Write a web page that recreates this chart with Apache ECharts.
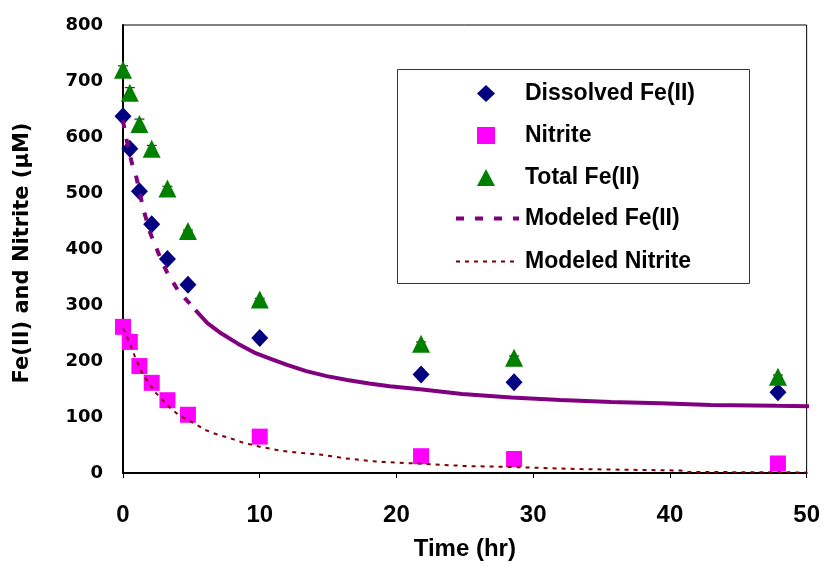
<!DOCTYPE html>
<html>
<head>
<meta charset="utf-8">
<title>Fe(II) and Nitrite</title>
<script src="https://cdn.jsdelivr.net/npm/echarts@6/dist/echarts.min.js"></script>
<style>
html, body { margin: 0; padding: 0; background: #fff; }
#chart { width: 823px; height: 570px; }
</style>
</head>
<body>
<div id="chart"></div>
<script>
// measured samples
var sampleTimes = [0, 0.5, 1.2, 2.1, 3.25, 4.75, 10, 21.8, 28.6, 47.9];
var dissolvedFe = [637, 579, 503, 444, 382, 336, 241, 176, 162, 144];
var nitrite = [261, 234, 191, 161, 130, 104, 65, 30, 25, 17];
var totalFe = [720, 679, 623, 579, 508, 432, 310, 231, 206, 172];
var totalFeErr = [7, 9, 9, 6, 4, 2, 2, 3, 3, 3];

// model curves
var modelFeTimes = [0, 0.15, 0.65, 0.94, 1.5, 2.0, 2.3, 2.8, 3.25, 3.5, 4.0, 4.5, 5.3, 6.2, 7.2, 8.4, 9.6, 10.8, 12, 13.4, 14.9, 16.4, 18, 19.5, 21.9, 24.8, 28.4, 32, 35.7, 39.3, 43, 47.8, 50.6];
var modelFe = [630, 607, 553, 532, 470, 428, 410, 380, 357, 347, 327, 313, 291, 267, 249, 231, 215, 204, 193, 182, 173, 166, 160, 155, 149, 141, 135, 130.5, 127, 124.5, 121.6, 120, 119.3];
var modelNitriteTimes = [0, 0.5, 0.87, 1.43, 2.4, 3.5, 4.0, 4.7, 5.4, 6.0, 6.75, 8.1, 8.8, 10, 11.5, 12.9, 14.4, 16.3, 18.7, 21.9, 25, 28.4, 33.3, 40.8, 41.2, 45, 50];
var modelNitrite = [258, 232, 208, 177, 143, 115, 105, 95, 86, 77, 70, 60, 54, 47, 40, 36, 33, 26, 20, 16.5, 12.5, 10.7, 7, 4.5, 2, 1.5, 1];
// the modeled Fe(II) curve shows dashes only on its steep start
var dashedUntil = 5.3;

var xTicks = [0, 10, 20, 30, 40, 50];
var yTicks = [0, 100, 200, 300, 400, 500, 600, 700, 800];

var markerNames = ['Dissolved Fe(II)', 'Nitrite', 'Total Fe(II)'];
var modelNames = ['Modeled Fe(II)', 'Modeled Nitrite'];

var wideFont = "'DejaVu Sans', sans-serif";
var arialFont = "'Liberation Sans', Arial, sans-serif";

function pairs(xs, ys, keep) {
	var out = [];
	xs.forEach(function(x, i) {
		if (!keep || keep(x)) {
			out.push([x, ys[i]]);
		}
	});
	return out;
}

// legend puts a fixed 5px between icon and text, padding makes up the rest
function legendText(padLeft) {
	return {
		fontFamily : arialFont,
		fontWeight : 'bold',
		fontSize : 23,
		lineHeight : 22,
		color : '#000',
		padding : [ 0, 0, 0, padLeft ]
	};
}

var chart = echarts.init(document.getElementById('chart'));

var option = {
	animation : false,
	backgroundColor : '#fff',
	grid : {
		left : 123,
		top : 25,
		right : 13,
		bottom : 97,
		show : true,
		borderColor : '#000',
		borderWidth : 1
	},
	graphic : [ {
		type : 'rect',
		z : 3,
		silent : true,
		shape : { x : 397.5, y : 69.5, width : 352, height : 214 },
		style : { fill : '#fff', stroke : '#333', lineWidth : 1 }
	} ],
	// markers and model lines need different icon widths, so two legends share one box
	legend : [ {
		orient : 'vertical',
		left : 477,
		top : 82,
		padding : 0,
		itemWidth : 18,
		itemHeight : 17,
		itemGap : 19,
		textStyle : legendText(25),
		data : markerNames
	}, {
		orient : 'vertical',
		left : 454,
		top : 207,
		padding : 0,
		itemWidth : 63,
		itemHeight : 16,
		itemGap : 20,
		lineStyle : {
			width : 'inherit'
		},
		textStyle : legendText(1),
		data : modelNames.map(function(name) {
			return {
				name : name,
				itemStyle : {
					opacity : 0
				}
			};
		})
	} ],
	xAxis : {
		type : 'value',
		min : xTicks[0],
		max : xTicks[xTicks.length - 1],
		interval : xTicks[1] - xTicks[0],
		name : 'Time (hr)',
		nameLocation : 'middle',
		nameGap : 64,
		nameTextStyle : {
			fontFamily : arialFont,
			fontWeight : 'bold',
			fontSize : 24,
			color : '#000'
		},
		splitLine : {
			show : false
		},
		axisLine : {
			lineStyle : {
				color : '#000',
				width : 2
			}
		},
		axisTick : {
			show : true,
			inside : false,
			length : 5,
			lineStyle : {
				color : '#000',
				width : 1
			}
		},
		axisLabel : {
			margin : 30,
			fontFamily : arialFont,
			fontWeight : 'bold',
			fontSize : 24,
			color : '#000'
		}
	},
	yAxis : {
		type : 'value',
		min : yTicks[0],
		max : yTicks[yTicks.length - 1],
		interval : yTicks[1] - yTicks[0],
		name : 'Fe(II) and Nitrite (µM)',
		nameLocation : 'middle',
		nameGap : 90,
		nameTextStyle : {
			fontFamily : wideFont,
			fontWeight : 'bold',
			fontSize : 21,
			color : '#000',
			padding : [ 0, 8, 0, 0 ]
		},
		splitLine : {
			show : false
		},
		axisLine : {
			show : true,
			lineStyle : {
				color : '#000',
				width : 2
			}
		},
		axisTick : {
			show : false
		},
		axisLabel : {
			margin : 20,
			fontFamily : wideFont,
			fontWeight : 'bold',
			fontSize : 18,
			color : '#000'
		}
	},
	series : [ {
		name : 'Modeled Fe(II)',
		type : 'line',
		symbol : 'none',
		clip : false,
		data : pairs(modelFeTimes, modelFe, function(t) {
			return t <= dashedUntil;
		}),
		lineStyle : {
			color : '#800080',
			width : 4,
			type : [ 8, 11 ]
		},
		itemStyle : {
			color : '#800080'
		}
	}, {
		name : 'Modeled Fe(II)',
		type : 'line',
		symbol : 'none',
		clip : false,
		data : pairs(modelFeTimes, modelFe, function(t) {
			return t >= dashedUntil;
		}),
		lineStyle : {
			color : '#800080',
			width : 4
		},
		itemStyle : {
			color : '#800080'
		}
	}, {
		name : 'Modeled Nitrite',
		type : 'line',
		symbol : 'none',
		data : pairs(modelNitriteTimes, modelNitrite),
		lineStyle : {
			color : '#800000',
			width : 2,
			type : [ 4, 5 ]
		},
		itemStyle : {
			color : '#800000'
		}
	}, {
		name : 'Total Fe(II) error',
		type : 'custom',
		silent : true,
		data : sampleTimes.map(function(t, i) {
			return [ t, totalFe[i], totalFeErr[i] ];
		}),
		encode : {
			x : 0,
			y : 1
		},
		renderItem : function(params, api) {
			var t = api.value(0);
			var hi = api.coord([ t, api.value(1) + api.value(2) ]);
			var lo = api.coord([ t, api.value(1) - api.value(2) ]);
			var style = {
				stroke : '#000',
				lineWidth : 1
			};
			return {
				type : 'group',
				children : [ {
					type : 'line',
					shape : { x1 : hi[0], y1 : hi[1], x2 : lo[0], y2 : lo[1] },
					style : style
				}, {
					type : 'line',
					shape : { x1 : hi[0] - 5, y1 : hi[1], x2 : hi[0] + 5, y2 : hi[1] },
					style : style
				}, {
					type : 'line',
					shape : { x1 : lo[0] - 5, y1 : lo[1], x2 : lo[0] + 5, y2 : lo[1] },
					style : style
				} ]
			};
		}
	}, {
		name : 'Dissolved Fe(II)',
		type : 'scatter',
		symbol : 'diamond',
		symbolSize : [ 17, 18 ],
		data : pairs(sampleTimes, dissolvedFe),
		itemStyle : {
			color : '#000080',
			opacity : 1
		}
	}, {
		name : 'Nitrite',
		type : 'scatter',
		symbol : 'rect',
		symbolSize : 16,
		data : pairs(sampleTimes, nitrite),
		itemStyle : {
			color : '#FF00FF',
			opacity : 1
		}
	}, {
		name : 'Total Fe(II)',
		type : 'scatter',
		symbol : 'triangle',
		symbolSize : [ 18, 18 ],
		data : pairs(sampleTimes, totalFe),
		itemStyle : {
			color : '#008000',
			opacity : 1
		}
	} ]
};

chart.setOption(option);
</script>
</body>
</html>
